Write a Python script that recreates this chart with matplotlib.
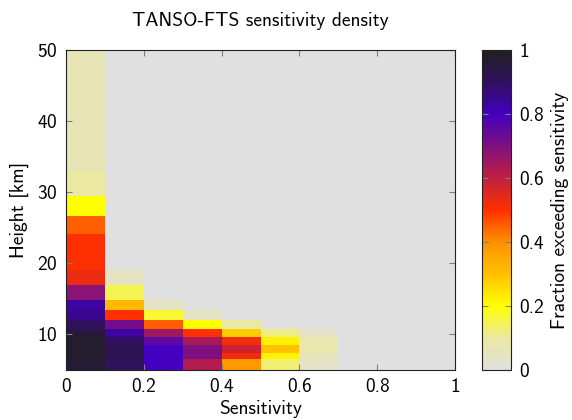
import numpy as np
import matplotlib.pyplot as plt
from matplotlib.colors import LinearSegmentedColormap

plt.rcParams['font.family'] = ['cmss10', 'DejaVu Sans']
plt.rcParams['axes.formatter.use_mathtext'] = True
plt.rcParams['font.size'] = 14

# bin edges
sens_edges = np.linspace(0, 1, 11)
height_edges = [5, 6.5, 7.4, 8.45, 9.7, 10.8, 12.1, 13.4, 14.9, 16.9, 19.0,
                21.6, 24.1, 26.7, 29.5, 33, 50]

# fraction exceeding sensitivity, rows from bottom layer to top layer
frac = np.array([
    [0.97, 0.91, 0.80, 0.62, 0.38, 0.13, 0.04, 0, 0, 0],
    [0.98, 0.92, 0.80, 0.70, 0.52, 0.22, 0.06, 0, 0, 0],
    [0.98, 0.92, 0.80, 0.70, 0.58, 0.30, 0.08, 0, 0, 0],
    [0.98, 0.90, 0.75, 0.64, 0.52, 0.22, 0.08, 0, 0, 0],
    [0.95, 0.83, 0.65, 0.50, 0.28, 0.12, 0.04, 0, 0, 0],
    [0.90, 0.72, 0.45, 0.20, 0.10, 0, 0, 0, 0, 0],
    [0.85, 0.50, 0.17, 0.05, 0, 0, 0, 0, 0, 0],
    [0.83, 0.32, 0.05, 0, 0, 0, 0, 0, 0, 0],
    [0.68, 0.15, 0, 0, 0, 0, 0, 0, 0, 0],
    [0.53, 0.05, 0, 0, 0, 0, 0, 0, 0, 0],
    [0.50, 0, 0, 0, 0, 0, 0, 0, 0, 0],
    [0.50, 0, 0, 0, 0, 0, 0, 0, 0, 0],
    [0.45, 0, 0, 0, 0, 0, 0, 0, 0, 0],
    [0.20, 0, 0, 0, 0, 0, 0, 0, 0, 0],
    [0.10, 0, 0, 0, 0, 0, 0, 0, 0, 0],
    [0.07, 0, 0, 0, 0, 0, 0, 0, 0, 0],
])

cmap = LinearSegmentedColormap.from_list('dens', [
    (0.0, '#e0e0e0'), (0.1, '#ebe8a0'), (0.2, '#ffff00'), (0.3, '#ffc000'),
    (0.4, '#ff9000'), (0.5, '#ff3000'), (0.6, '#c02040'), (0.7, '#801080'),
    (0.8, '#4400c0'), (0.9, '#301060'), (1.0, '#202020')])

fig = plt.figure(figsize=(5.72, 4.2), dpi=100)
ax = fig.add_axes([66/572, 50/420, 389/572, 320/420])
cax = fig.add_axes([482/572, 50/420, 29/572, 320/420])

mesh = ax.pcolormesh(sens_edges, height_edges, frac, cmap=cmap, vmin=0, vmax=1)
ax.set_xlim(0, 1)
ax.set_ylim(5, 50)
ax.set_xticks([0, 0.2, 0.4, 0.6, 0.8, 1])
ax.set_xticklabels(['0', '0.2', '0.4', '0.6', '0.8', '1'])
ax.set_yticks([10, 20, 30, 40, 50])
ax.tick_params(direction='in', top=True, right=True, length=4, color='#808080', pad=6)
for s in ax.spines.values():
    s.set_color('#222222')
ax.set_xlabel('Sensitivity', labelpad=3)
ax.set_ylabel('Height [km]', labelpad=6)
ax.set_title('TANSO-FTS sensitivity density', fontsize=14, pad=17)

cb = fig.colorbar(mesh, cax=cax)
cb.set_ticks([0, 0.2, 0.4, 0.6, 0.8, 1])
cb.set_ticklabels(['0', '0.2', '0.4', '0.6', '0.8', '1'])
cax.tick_params(direction='in', left=True, right=True, length=4, color='#808080', pad=6)
cb.outline.set_edgecolor('#222222')
cb.set_label('Fraction exceeding sensitivity', labelpad=5)

fig.savefig('out.png', dpi=100)
